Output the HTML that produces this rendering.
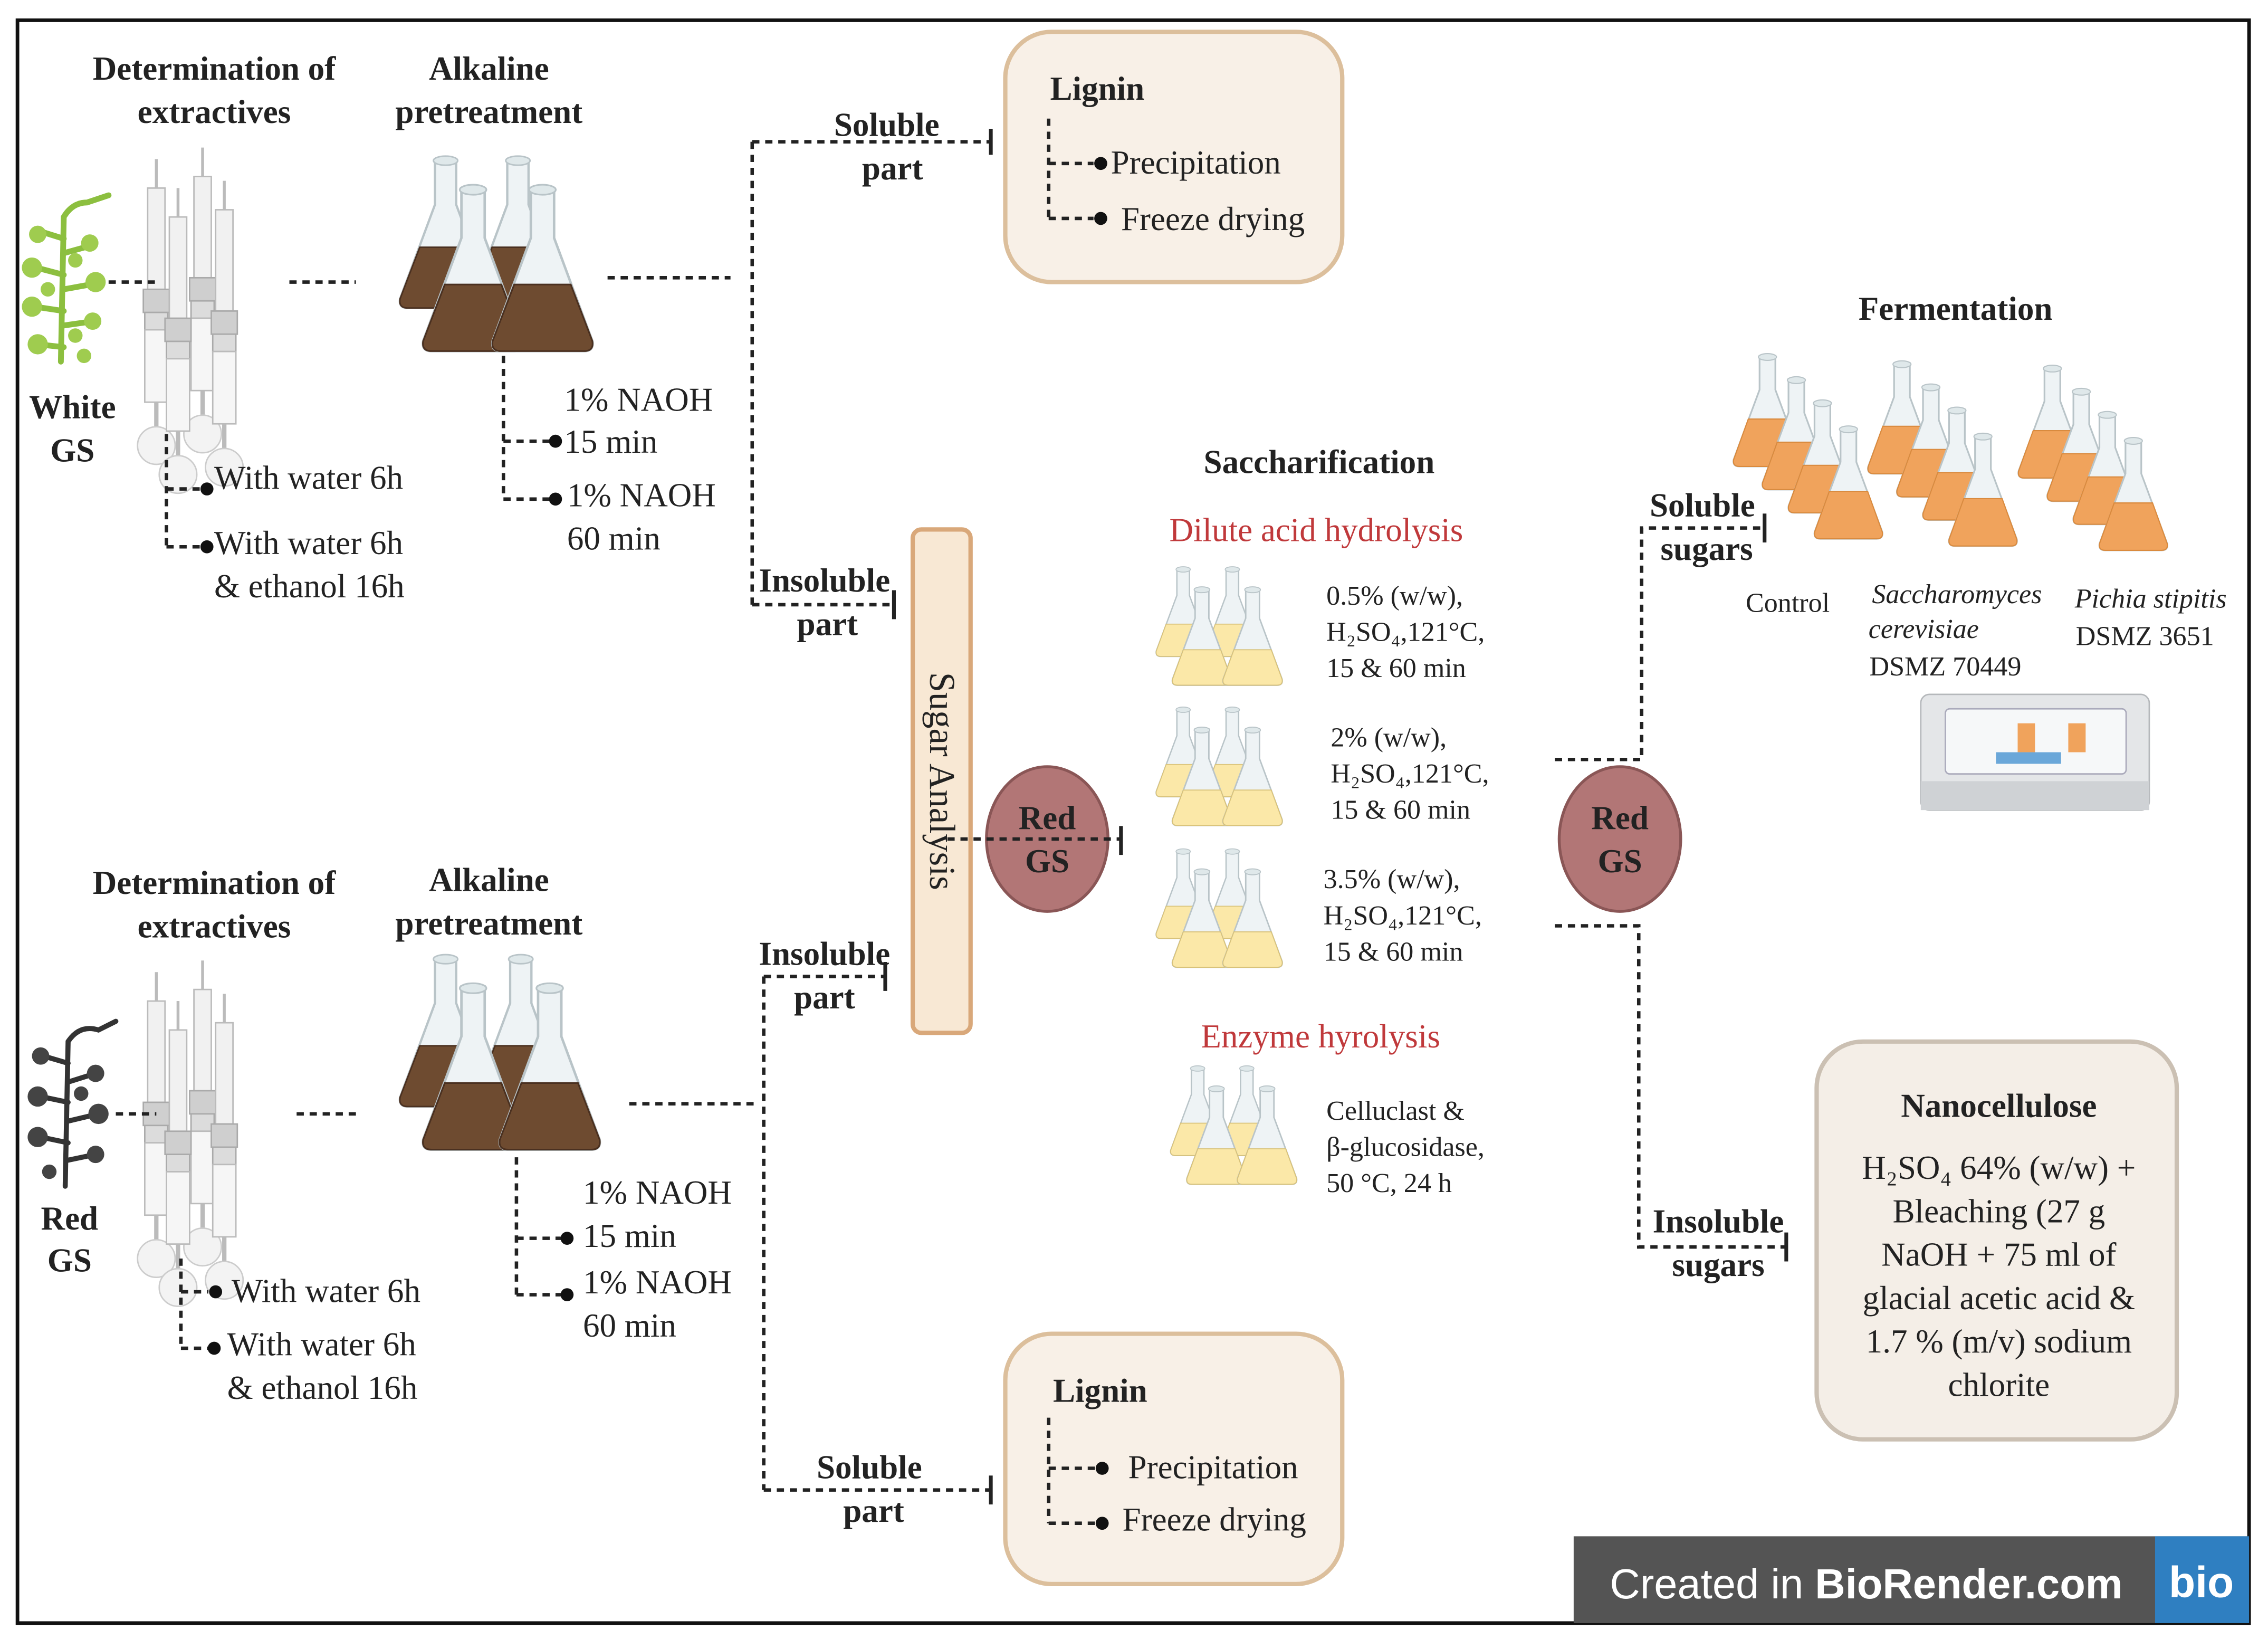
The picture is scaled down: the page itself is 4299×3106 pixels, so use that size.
<!DOCTYPE html>
<html><head><meta charset="utf-8">
<style>
html,body{margin:0;padding:0;background:#fff;}
svg{display:block;font-family:"Liberation Serif",serif;}
text{font-family:"Liberation Serif",serif;fill:#222;}
.b{font-weight:bold;}
.h{font-size:23px;}
.nm{font-size:23px;}
.s{font-size:19px;}
.red{fill:#c0393b;font-size:23px;}
.d{stroke:#222;stroke-width:2.4;stroke-dasharray:5,4;fill:none;}
.k{stroke:#222;stroke-width:2.6;fill:none;}
</style></head>
<body>
<svg width="4299" height="3106" viewBox="0 0 1568 1133" xmlns="http://www.w3.org/2000/svg" font-family="Liberation Serif, serif">
<defs>
  <g id="fl">
    <path d="M-7,0 L7,0 L7,30 L30,92 Q31,98 25,98 L-25,98 Q-31,98 -30,92 L-7,30 Z" fill="#eef3f5" stroke="#b9c4c8" stroke-width="1.5"/>
    <ellipse cx="0" cy="1" rx="8" ry="3" fill="#dfe8ea" stroke="#b9c4c8"/>
  </g>
  <g id="flB"><use href="#fl"/><path d="M-17,58 L17,58 L30,92 Q31,98 25,98 L-25,98 Q-31,98 -30,92 Z" fill="#6e4b30" stroke="#4a3020"/></g>
  <g id="flY"><use href="#fl"/><path d="M-19,62 L19,62 L30,92 Q31,98 25,98 L-25,98 Q-31,98 -30,92 Z" fill="#fbe8a8" stroke="#d8c27a"/></g>
  <g id="flO"><use href="#fl"/><path d="M-17,56 L17,56 L30,92 Q31,98 25,98 L-25,98 Q-31,98 -30,92 Z" fill="#f0a35c" stroke="#d98a3e"/></g>
  <g id="sox">
    <line x1="0" y1="0" x2="0" y2="20" stroke="#bbb" stroke-width="2"/>
    <rect x="-6" y="20" width="12" height="70" fill="#f1f1f1" stroke="#bbb"/>
    <rect x="-9" y="90" width="18" height="16" fill="#cfcfcf" stroke="#aaa"/>
    <rect x="-8" y="106" width="16" height="12" fill="#dcdcdc" stroke="#aaa"/>
    <rect x="-8" y="118" width="16" height="50" fill="#f6f6f6" stroke="#bbb"/>
    <line x1="0" y1="168" x2="0" y2="188" stroke="#bbb" stroke-width="3"/>
    <circle cx="0" cy="198" r="13" fill="#f3f3f3" stroke="#ccc"/>
  </g>
  <g id="sg3">
    <use href="#sox" x="118" y="120"/>
    <use href="#sox" x="150" y="112"/>
    <use href="#sox" x="133" y="140"/>
    <use href="#sox" x="165" y="135"/>
  </g>
  <g id="dot"><circle r="4.5" fill="#111"/></g>
</defs>

<rect x="0" y="0" width="1568" height="1133" fill="#fff"/>
<rect x="12" y="14" width="1543" height="1108" fill="none" stroke="#111" stroke-width="2.5"/>

<text class="b h" x="148" y="55" text-anchor="middle">Determination of</text>
<text class="b h" x="148" y="85" text-anchor="middle">extractives</text>
<text class="b h" x="338" y="55" text-anchor="middle">Alkaline</text>
<text class="b h" x="338" y="85" text-anchor="middle">pretreatment</text>

<g stroke="#8cbf3f" stroke-width="4" fill="none" stroke-linecap="round">
  <path d="M42,250 L44,150 Q50,140 60,140 L75,135"/>
  <path d="M44,165 L28,160 M44,175 L62,170 M44,190 L25,185 M44,200 L66,196 M44,215 L24,212 M44,225 L65,222 M44,240 L26,238"/>
</g>
<g fill="#9fcc4f">
  <circle cx="26" cy="162" r="6"/><circle cx="62" cy="168" r="6"/><circle cx="22" cy="185" r="7"/><circle cx="66" cy="195" r="7"/>
  <circle cx="22" cy="212" r="7"/><circle cx="64" cy="222" r="6"/><circle cx="26" cy="238" r="7"/><circle cx="58" cy="246" r="5"/>
  <circle cx="33" cy="200" r="5"/><circle cx="52" cy="180" r="5"/><circle cx="52" cy="232" r="5"/>
</g>
<use href="#sg3" x="-10" y="-10"/>
<g transform="translate(308,110) scale(1.05)"><use href="#flB"/></g>
<g transform="translate(358,110) scale(1.05)"><use href="#flB"/></g>
<g transform="translate(327,130) scale(1.15)"><use href="#flB"/></g>
<g transform="translate(375,130) scale(1.15)"><use href="#flB"/></g>
<path class="d" d="M75,195 H108 M200,195 H246 M420,192 H505"/>
<text class="b h" x="50" y="289" text-anchor="middle">White</text>
<text class="b h" x="50" y="319" text-anchor="middle">GS</text>

<g font-family="Liberation Serif, serif" style="font-family:'Liberation Serif',serif;font-size:23px">
<path class="d" d="M115,300 V378 M115,338 H140 M115,378 H140"/>
<use href="#dot" x="143" y="338"/><use href="#dot" x="143" y="378"/>
<text class="nm" style="font-family:'Liberation Serif',serif" x="148" y="338">With water 6h</text>
<text class="nm" style="font-family:'Liberation Serif',serif" x="148" y="383">With water 6h</text>
<text class="nm" style="font-family:'Liberation Serif',serif" x="148" y="413">&amp; ethanol 16h</text>

<path class="d" d="M348,246 V345 M348,305 H380 M348,345 H380"/>
<use href="#dot" x="384" y="305"/><use href="#dot" x="384" y="345"/>
<text class="nm" style="font-family:'Liberation Serif',serif" x="390" y="284">1% NAOH</text>
<text class="nm" style="font-family:'Liberation Serif',serif" x="390" y="313">15 min</text>
<text class="nm" style="font-family:'Liberation Serif',serif" x="392" y="350">1% NAOH</text>
<text class="nm" style="font-family:'Liberation Serif',serif" x="392" y="380">60 min</text>
</g>

<path class="d" d="M520,98 V418 M520,98 H685 M520,418 H618"/>
<path class="k" d="M685,89 V107 M618,408 V428"/>
<text class="b h" x="613" y="94" text-anchor="middle">Soluble</text>
<text class="b h" x="617" y="124" text-anchor="middle">part</text>
<text class="b h" x="570" y="409" text-anchor="middle">Insoluble</text>
<text class="b h" x="572" y="439" text-anchor="middle">part</text>

<rect x="695" y="22" width="233" height="173" rx="32" fill="#f8f0e7" stroke="#dcbf9c" stroke-width="3"/>
<text class="b h" x="726" y="69">Lignin</text>
<path class="d" d="M725,82 V151 M725,113 H756 M725,151 H756"/>
<use href="#dot" x="761" y="113"/><use href="#dot" x="761" y="151"/>
<text class="nm" style="font-family:'Liberation Serif',serif" x="768" y="120">Precipitation</text>
<text class="nm" style="font-family:'Liberation Serif',serif" x="775" y="159">Freeze drying</text>

<rect x="631" y="366" width="40" height="348" rx="6" fill="#f8e8d4" stroke="#d9a87a" stroke-width="3"/>
<text x="651" y="540" text-anchor="middle" transform="rotate(90 651 540)" dy="8" style="font-family:'Liberation Serif',serif;font-size:25px">Sugar Analysis</text>
<ellipse cx="724" cy="580" rx="42" ry="50" fill="#b27676" stroke="#8a5656" stroke-width="2"/>
<text class="b h" x="724" y="573" text-anchor="middle">Red</text>
<text class="b h" x="724" y="603" text-anchor="middle">GS</text>
<path class="d" d="M655,580 H775"/>
<path class="k" d="M775,571 V591"/>

<text class="b h" x="912" y="327" text-anchor="middle">Saccharification</text>
<text class="red" x="910" y="374" text-anchor="middle">Dilute acid hydrolysis</text>

<g id="ygrp">
  <g transform="translate(818,393) scale(0.62)"><use href="#flY"/></g>
  <g transform="translate(852,393) scale(0.62)"><use href="#flY"/></g>
  <g transform="translate(831,407) scale(0.68)"><use href="#flY"/></g>
  <g transform="translate(866,407) scale(0.68)"><use href="#flY"/></g>
</g>
<use href="#ygrp" x="0" y="97"/>
<use href="#ygrp" x="0" y="195"/>
<use href="#ygrp" x="10" y="345"/>

<text class="s" x="917" y="418">0.5% (w/w),</text>
<text class="s" x="917" y="443">H₂SO₄,121°C,</text>
<text class="s" x="917" y="468">15 &amp; 60 min</text>
<text class="s" x="920" y="516">2% (w/w),</text>
<text class="s" x="920" y="541">H₂SO₄,121°C,</text>
<text class="s" x="920" y="566">15 &amp; 60 min</text>
<text class="s" x="915" y="614">3.5% (w/w),</text>
<text class="s" x="915" y="639">H₂SO₄,121°C,</text>
<text class="s" x="915" y="664">15 &amp; 60 min</text>
<text class="red" x="913" y="724" text-anchor="middle">Enzyme hyrolysis</text>
<text class="s" x="917" y="774">Celluclast &amp;</text>
<text class="s" x="917" y="799">β-glucosidase,</text>
<text class="s" x="917" y="824">50 °C, 24 h</text>

<ellipse cx="1120" cy="580" rx="42" ry="50" fill="#b27676" stroke="#8a5656" stroke-width="2"/>
<text class="b h" x="1120" y="573" text-anchor="middle">Red</text>
<text class="b h" x="1120" y="603" text-anchor="middle">GS</text>
<path class="d" d="M1075,525 H1135 V365 H1220 M1075,640 H1133 V862 H1235"/>
<path class="k" d="M1220,355 V375 M1235,852 V872"/>
<text class="b h" x="1177" y="357" text-anchor="middle">Soluble</text>
<text class="b h" x="1180" y="387" text-anchor="middle">sugars</text>
<text class="b h" x="1188" y="852" text-anchor="middle">Insoluble</text>
<text class="b h" x="1188" y="882" text-anchor="middle">sugars</text>

<text class="b h" x="1352" y="221" text-anchor="middle">Fermentation</text>
<g id="ogrp">
  <g transform="translate(1222,246) scale(0.78)"><use href="#flO"/></g>
  <g transform="translate(1242,262) scale(0.78)"><use href="#flO"/></g>
  <g transform="translate(1260,278) scale(0.78)"><use href="#flO"/></g>
  <g transform="translate(1278,296) scale(0.78)"><use href="#flO"/></g>
</g>
<use href="#ogrp" x="93" y="5"/>
<use href="#ogrp" x="197" y="8"/>
<text class="s" x="1236" y="423" text-anchor="middle">Control</text>
<text class="s" x="1353" y="417" text-anchor="middle" font-style="italic">Saccharomyces</text>
<text class="s" x="1330" y="441" text-anchor="middle" font-style="italic">cerevisiae</text>
<text class="s" x="1345" y="467" text-anchor="middle">DSMZ 70449</text>
<text class="s" x="1487" y="420" text-anchor="middle" font-style="italic">Pichia stipitis</text>
<text class="s" x="1483" y="446" text-anchor="middle">DSMZ 3651</text>

<rect x="1328" y="480" width="158" height="80" rx="6" fill="#e4e6e8" stroke="#b5b8bb"/>
<rect x="1328" y="540" width="158" height="20" fill="#cfd2d5"/>
<rect x="1345" y="490" width="125" height="45" rx="3" fill="#f6f8f9" stroke="#aab"/>
<rect x="1380" y="520" width="45" height="8" fill="#6aa7d9"/>
<rect x="1395" y="500" width="12" height="20" fill="#f0a35c"/>
<rect x="1430" y="500" width="12" height="20" fill="#f0a35c"/>

<rect x="1256" y="720" width="249" height="275" rx="32" fill="#f4eee7" stroke="#cbc0b3" stroke-width="3"/>
<text class="b h" x="1382" y="772" text-anchor="middle">Nanocellulose</text>
<g style="font-family:'Liberation Serif',serif;font-size:23px" text-anchor="middle">
<text style="font-family:'Liberation Serif',serif" x="1382" y="815">H₂SO₄ 64% (w/w) +</text>
<text style="font-family:'Liberation Serif',serif" x="1382" y="845">Bleaching (27 g</text>
<text style="font-family:'Liberation Serif',serif" x="1382" y="875">NaOH + 75 ml of</text>
<text style="font-family:'Liberation Serif',serif" x="1382" y="905">glacial acetic acid &amp;</text>
<text style="font-family:'Liberation Serif',serif" x="1382" y="935">1.7 % (m/v) sodium</text>
<text style="font-family:'Liberation Serif',serif" x="1382" y="965">chlorite</text>
</g>

<text class="b h" x="148" y="618" text-anchor="middle">Determination of</text>
<text class="b h" x="148" y="648" text-anchor="middle">extractives</text>
<text class="b h" x="338" y="616" text-anchor="middle">Alkaline</text>
<text class="b h" x="338" y="646" text-anchor="middle">pretreatment</text>

<g stroke="#333" stroke-width="3.5" fill="none" stroke-linecap="round">
  <path d="M45,820 L47,720 Q55,708 68,712 L80,706"/>
  <path d="M47,735 L30,730 M47,748 L66,742 M47,762 L28,758 M47,775 L68,770 M47,790 L28,786 M47,802 L66,798"/>
</g>
<g fill="#444">
  <circle cx="28" cy="730" r="6"/><circle cx="66" cy="742" r="6"/><circle cx="26" cy="758" r="7"/><circle cx="68" cy="770" r="7"/>
  <circle cx="26" cy="786" r="7"/><circle cx="66" cy="798" r="6"/><circle cx="34" cy="810" r="5"/><circle cx="56" cy="756" r="5"/>
</g>
<use href="#sg3" x="-10" y="552"/>
<g transform="translate(308,662) scale(1.05)"><use href="#flB"/></g>
<g transform="translate(360,662) scale(1.05)"><use href="#flB"/></g>
<g transform="translate(327,682) scale(1.15)"><use href="#flB"/></g>
<g transform="translate(380,682) scale(1.15)"><use href="#flB"/></g>
<path class="d" d="M80,770 H108 M205,770 H250 M435,763 H525"/>
<text class="b h" x="48" y="850" text-anchor="middle">Red</text>
<text class="b h" x="48" y="879" text-anchor="middle">GS</text>

<path class="d" d="M125,870 V932 M125,893 H144 M125,932 H144"/>
<use href="#dot" x="149" y="893"/><use href="#dot" x="148" y="932"/>
<text class="nm" style="font-family:'Liberation Serif',serif" x="160" y="900">With water 6h</text>
<text class="nm" style="font-family:'Liberation Serif',serif" x="157" y="937">With water 6h</text>
<text class="nm" style="font-family:'Liberation Serif',serif" x="157" y="967">&amp; ethanol 16h</text>

<path class="d" d="M357,800 V895 M357,856 H388 M357,895 H388"/>
<use href="#dot" x="392" y="856"/><use href="#dot" x="392" y="895"/>
<text class="nm" style="font-family:'Liberation Serif',serif" x="403" y="832">1% NAOH</text>
<text class="nm" style="font-family:'Liberation Serif',serif" x="403" y="862">15 min</text>
<text class="nm" style="font-family:'Liberation Serif',serif" x="403" y="894">1% NAOH</text>
<text class="nm" style="font-family:'Liberation Serif',serif" x="403" y="924">60 min</text>

<path class="d" d="M528,675 V1030 M528,675 H612 M528,1030 H685"/>
<path class="k" d="M612,665 V685 M685,1020 V1040"/>
<text class="b h" x="570" y="667" text-anchor="middle">Insoluble</text>
<text class="b h" x="570" y="697" text-anchor="middle">part</text>
<text class="b h" x="601" y="1022" text-anchor="middle">Soluble</text>
<text class="b h" x="604" y="1052" text-anchor="middle">part</text>

<rect x="695" y="922" width="233" height="173" rx="32" fill="#f8f0e7" stroke="#dcbf9c" stroke-width="3"/>
<text class="b h" x="728" y="969">Lignin</text>
<path class="d" d="M725,980 V1053 M725,1015 H757 M725,1053 H757"/>
<use href="#dot" x="762" y="1015"/><use href="#dot" x="762" y="1053"/>
<text class="nm" style="font-family:'Liberation Serif',serif" x="780" y="1022">Precipitation</text>
<text class="nm" style="font-family:'Liberation Serif',serif" x="776" y="1058">Freeze drying</text>

<rect x="1088" y="1062" width="467" height="60" fill="#545454"/>
<text x="1113" y="1105" style="font-family:'Liberation Sans',sans-serif;font-size:29px;fill:#fff">Created in <tspan font-weight="bold">BioRender.com</tspan></text>
<rect x="1490" y="1062" width="65" height="60" fill="#2f7fc1"/>
<text x="1522" y="1104" text-anchor="middle" style="font-family:'Liberation Sans',sans-serif;font-size:30px;font-weight:bold;fill:#fff">bio</text>
</svg>
</body></html>
